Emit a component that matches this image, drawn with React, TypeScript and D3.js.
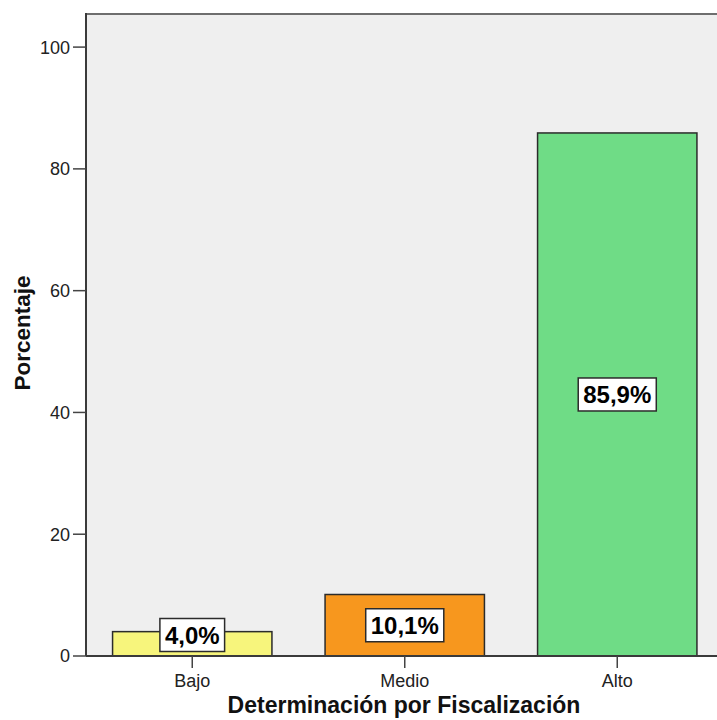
import React, { useEffect, useRef } from 'react'
import * as d3 from 'd3'

const categories = ['Bajo', 'Medio', 'Alto']
const percentages = [4.0, 10.1, 85.9]
const barColors = ['#f7f57c', '#f7971e', '#6fdc86']
const yTicks = [0, 20, 40, 60, 80, 100]

const App = () => {
  const ref = useRef<SVGSVGElement>(null)

  useEffect(() => {
    const svg = d3.select(ref.current)
    svg.selectAll('*').remove()

    const width = 717
    const height = 720
    const left = 86
    const top = 13
    const bottom = 656
    const step = 212.5

    svg.attr('width', width).attr('height', height)
      .style('position', 'absolute').style('left', 0).style('top', 0)

    const x = d3.scaleBand<string>()
      .domain(categories)
      .range([left, left + step * categories.length])
      .paddingInner(0.25)
      .paddingOuter(0.125)
    const y = d3.scaleLinear().domain([0, 105.6]).range([bottom, top])

    const font = 'Arial, "Liberation Sans", sans-serif'

    // plot background
    svg.append('rect')
      .attr('x', left).attr('y', top)
      .attr('width', width - left).attr('height', bottom - top)
      .attr('fill', '#efefef')

    // top frame
    svg.append('line')
      .attr('x1', left).attr('x2', width).attr('y1', top + 1).attr('y2', top + 1)
      .attr('stroke', '#6e6e6e').attr('stroke-width', 2)

    // bars
    svg.selectAll('rect.bar')
      .data(percentages)
      .enter()
      .append('rect')
      .attr('class', 'bar')
      .attr('x', (d, i) => x(categories[i])!)
      .attr('y', (d) => y(d))
      .attr('width', x.bandwidth())
      .attr('height', (d) => bottom - y(d))
      .attr('fill', (d, i) => barColors[i])
      .attr('stroke', '#2b2b2b')
      .attr('stroke-width', 1.5)

    // left axis
    const yAxis = svg.append('g')
    yAxis.append('line')
      .attr('x1', left).attr('x2', left).attr('y1', top).attr('y2', bottom)
      .attr('stroke', '#3a3a3a').attr('stroke-width', 2)
    yTicks.forEach((t) => {
      yAxis.append('line')
        .attr('x1', left - 13).attr('x2', left).attr('y1', y(t)).attr('y2', y(t))
        .attr('stroke', '#444').attr('stroke-width', 1.5)
      yAxis.append('text')
        .attr('x', left - 16).attr('y', y(t))
        .attr('dy', '0.36em')
        .attr('text-anchor', 'end')
        .attr('font-family', font).attr('font-size', 18)
        .attr('fill', '#222')
        .text(t)
    })

    // bottom axis
    const xAxis = svg.append('g')
    xAxis.append('line')
      .attr('x1', left).attr('x2', width).attr('y1', bottom).attr('y2', bottom)
      .attr('stroke', '#3a3a3a').attr('stroke-width', 2)
    categories.forEach((c) => {
      const cx = x(c)! + x.bandwidth() / 2
      xAxis.append('line')
        .attr('x1', cx).attr('x2', cx).attr('y1', bottom).attr('y2', bottom + 12)
        .attr('stroke', '#444').attr('stroke-width', 1.5)
      xAxis.append('text')
        .attr('x', cx).attr('y', bottom + 31)
        .attr('text-anchor', 'middle')
        .attr('font-family', font).attr('font-size', 18)
        .attr('fill', '#222')
        .text(c)
    })

    // data labels
    percentages.forEach((v, i) => {
      const cx = x(categories[i])! + x.bandwidth() / 2
      let cy = (y(v) + bottom) / 2
      cy = Math.min(cy, bottom - 21)
      const label = v.toFixed(1).replace('.', ',') + '%'
      const g = svg.append('g')
      const txt = g.append('text')
        .attr('x', cx).attr('y', cy)
        .attr('dy', '0.36em')
        .attr('text-anchor', 'middle')
        .attr('font-family', font).attr('font-size', 24).attr('font-weight', 'bold')
        .attr('fill', '#000')
        .text(label)
      const bb = (txt.node() as SVGTextElement).getBBox()
      g.insert('rect', 'text')
        .attr('x', bb.x - 5).attr('y', cy - 16.5)
        .attr('width', bb.width + 10).attr('height', 33)
        .attr('fill', '#fff')
        .attr('stroke', '#2b2b2b').attr('stroke-width', 1.5)
    })

    // axis titles
    svg.append('text')
      .attr('x', 404).attr('y', 713)
      .attr('text-anchor', 'middle')
      .attr('font-family', font).attr('font-size', 23).attr('font-weight', 'bold')
      .attr('fill', '#111')
      .text('Determinación por Fiscalización')

    svg.append('text')
      .attr('transform', `translate(30, 333) rotate(-90)`)
      .attr('text-anchor', 'middle')
      .attr('font-family', font).attr('font-size', 22.5).attr('font-weight', 'bold')
      .attr('fill', '#111')
      .text('Porcentaje')
  }, [])

  return <svg ref={ref}></svg>
}

export default App
